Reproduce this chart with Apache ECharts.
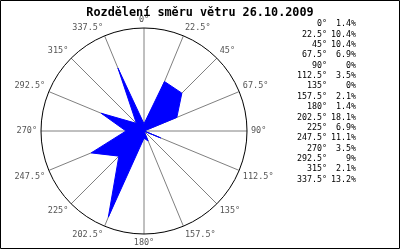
<!DOCTYPE html>
<html><head><meta charset="utf-8">
<script src="https://cdn.jsdelivr.net/npm/echarts@6/dist/echarts.min.js"></script>
<style>html,body{margin:0;padding:0;background:#fff}#c{width:400px;height:250px}</style>
</head><body><div id="c"></div>
<script>
var titleText = 'Rozdělení směru větru 26.10.2009';
var directions = [0, 22.5, 45, 67.5, 90, 112.5, 135, 157.5, 180, 202.5, 225, 247.5, 270, 292.5, 315, 337.5];
var percents = [1.4, 10.4, 10.4, 6.9, 0, 3.5, 0, 2.1, 1.4, 18.1, 6.9, 11.1, 3.5, 9, 2.1, 13.2];
var radiusMax = 20;

var seriesData = directions.map(function (d, i) { return [percents[i], d]; });
seriesData.push([percents[0], 360]);

var mono = 'DejaVu Sans Mono';
var graphics = [{
  type: 'rect', shape: {x: 0.5, y: 0.5, width: 399, height: 248},
  style: {fill: 'none', stroke: '#000', lineWidth: 1}, silent: true
}];
directions.forEach(function (d, i) {
  var y = 20 + i * 10.38;
  graphics.push({type: 'text', x: 327, y: y, style: {text: d + '°', font: '8.3px ' + mono, fill: '#000', textAlign: 'right', textVerticalAlign: 'top'}});
  graphics.push({type: 'text', x: 356, y: y, style: {text: percents[i] + '%', font: '8.3px ' + mono, fill: '#000', textAlign: 'right', textVerticalAlign: 'top'}});
});

var chart = echarts.init(document.getElementById('c'), null, {renderer: 'canvas'});
chart.setOption({
  animation: false,
  backgroundColor: '#fff',
  title: {text: titleText, left: 'center', top: 2, textStyle: {fontFamily: mono, fontWeight: 'bold', fontSize: 11.8, color: '#000'}},
  polar: {center: [144, 131], radius: 103},
  angleAxis: {
    type: 'value', min: 0, max: 360, interval: 22.5, startAngle: 90, clockwise: true,
    axisLine: {lineStyle: {color: '#000', width: 1}},
    axisTick: {show: false},
    splitLine: {show: true, lineStyle: {color: '#808080', width: 1}},
    axisLabel: {margin: 4, color: '#555', fontFamily: mono, fontSize: 8.5,
      formatter: function (v) { return v >= 360 ? '' : v + '°'; }}
  },
  radiusAxis: {min: 0, max: radiusMax, show: false, splitLine: {show: false}},
  graphic: graphics,
  series: [{
    type: 'line', coordinateSystem: 'polar', data: seriesData, symbol: 'none',
    lineStyle: {color: '#0000ff', width: 1}, areaStyle: {color: '#0000ff', opacity: 1}
  }]
});
</script></body></html>
